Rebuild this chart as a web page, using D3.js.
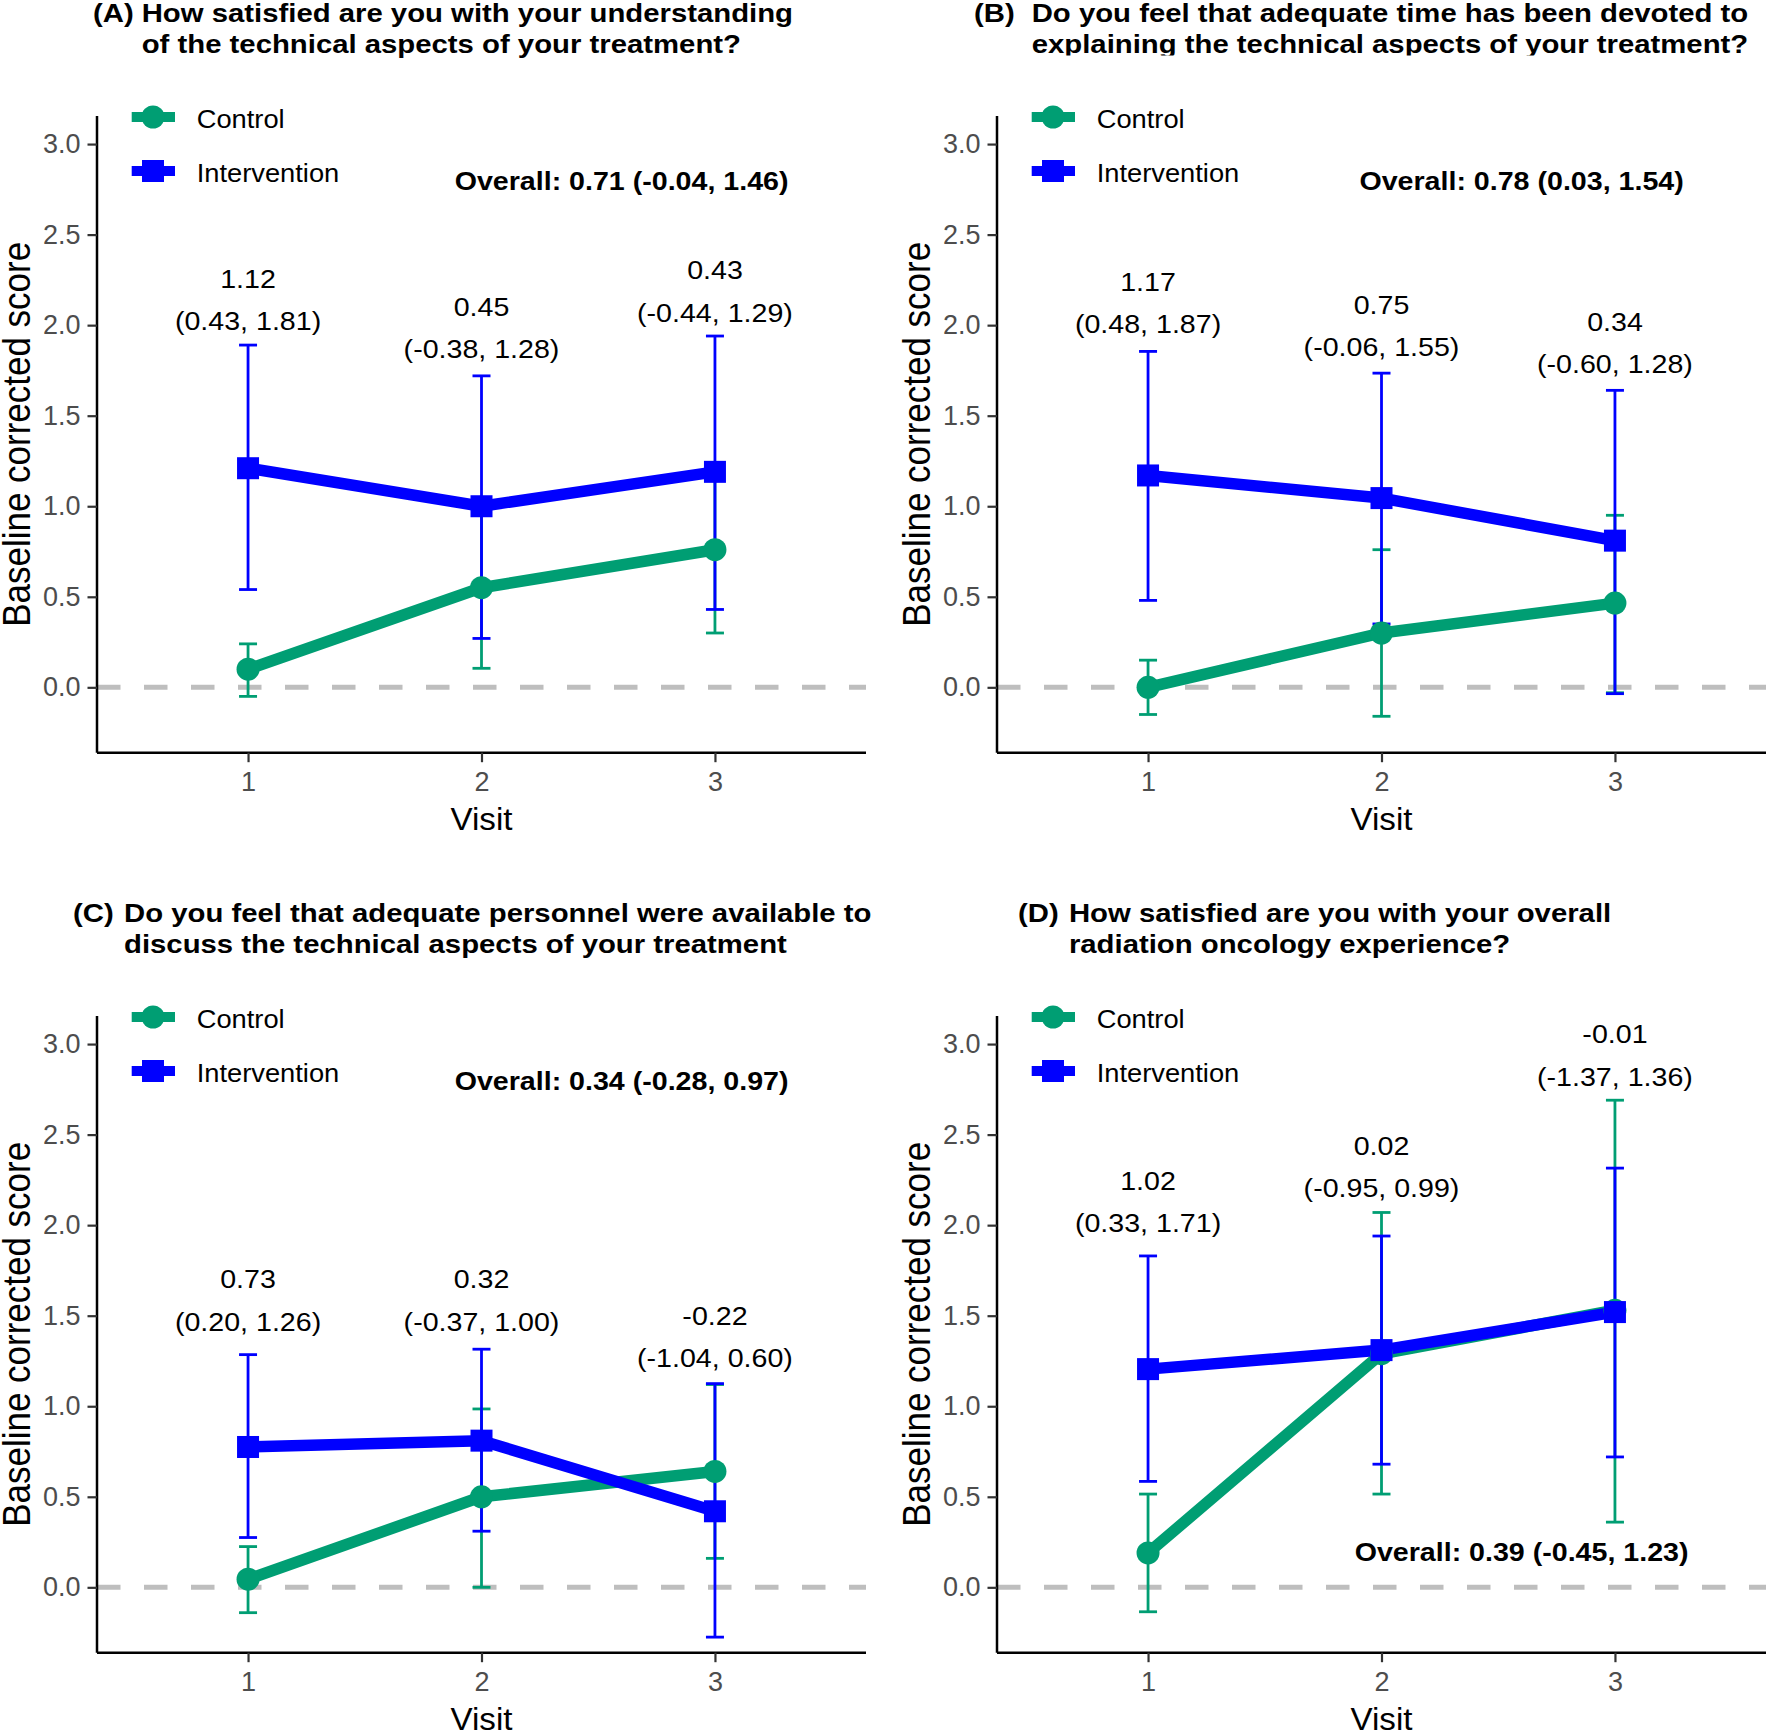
<!DOCTYPE html>
<html>
<head>
<meta charset="utf-8">
<script src="https://cdn.jsdelivr.net/npm/d3@7"></script>
<style>
  html, body { margin: 0; padding: 0; background: #fff; }
  svg { display: block; }
</style>
</head>
<body>
<script>
// ---------------- DATA ----------------
const visits = [1, 2, 3];
const yTicks = [0, 0.5, 1, 1.5, 2, 2.5, 3];
const groups = ["Control", "Intervention"];

const panelTags = ["(A)", "(B)", "(C)", "(D)"];
const titleLine1 = [
  "How satisfied are you with your understanding",
  "Do you feel that adequate time has been devoted to",
  "Do you feel that adequate personnel were available to",
  "How satisfied are you with your overall"
];
const titleLine2 = [
  "of the technical aspects of your treatment?",
  "explaining the technical aspects of your treatment?",
  "discuss the technical aspects of your treatment",
  "radiation oncology experience?"
];

// Panel A
const ctrlMeanA = [0.10, 0.55, 0.76], ctrlLoA = [-0.05, 0.105, 0.30], ctrlHiA = [0.24, 0.99, 1.22];
const intMeanA  = [1.21, 1.00, 1.19], intLoA  = [0.54, 0.27, 0.43],   intHiA  = [1.89, 1.72, 1.94];
const diffA = ["1.12", "0.45", "0.43"];
const ciA = ["(0.43, 1.81)", "(-0.38, 1.28)", "(-0.44, 1.29)"];
const labelYA = [1.973, 1.818, 2.019];
const overallA = "Overall: 0.71 (-0.04, 1.46)";

// Panel B
const ctrlMeanB = [0.00, 0.30, 0.465], ctrlLoB = [-0.15, -0.16, -0.03], ctrlHiB = [0.15, 0.76, 0.95];
const intMeanB  = [1.17, 1.045, 0.81], intLoB  = [0.48, 0.35, -0.035],  intHiB  = [1.855, 1.735, 1.64];
const diffB = ["1.17", "0.75", "0.34"];
const ciB = ["(0.48, 1.87)", "(-0.06, 1.55)", "(-0.60, 1.28)"];
const labelYB = [1.955, 1.829, 1.734];
const overallB = "Overall: 0.78 (0.03, 1.54)";

// Panel C
const ctrlMeanC = [0.045, 0.50, 0.64], ctrlLoC = [-0.14, 0.0, 0.16], ctrlHiC = [0.225, 0.985, 1.12];
const intMeanC  = [0.775, 0.81, 0.42], intLoC  = [0.275, 0.31, -0.275], intHiC = [1.285, 1.315, 1.125];
const diffC = ["0.73", "0.32", "-0.22"];
const ciC = ["(0.20, 1.26)", "(-0.37, 1.00)", "(-1.04, 0.60)"];
const labelYC = [1.417, 1.417, 1.215];
const overallC = "Overall: 0.34 (-0.28, 0.97)";

// Panel D
const ctrlMeanD = [0.19, 1.29, 1.53], ctrlLoD = [-0.135, 0.515, 0.36], ctrlHiD = [0.515, 2.07, 2.69];
const intMeanD  = [1.205, 1.31, 1.52], intLoD  = [0.585, 0.68, 0.72],  intHiD  = [1.83, 1.94, 2.315];
const diffD = ["1.02", "0.02", "-0.01"];
const ciD = ["(0.33, 1.71)", "(-0.95, 0.99)", "(-1.37, 1.36)"];
const labelYD = [1.960, 2.153, 2.770];
const overallD = "Overall: 0.39 (-0.45, 1.23)";

const overallX = 2.6;
const overallY = [2.8, 2.8, 2.8, 0.2];

// ---------------- LAYOUT ----------------
const W = 1768, H = 1733;
const FONT = "'Liberation Sans', Arial, Helvetica, sans-serif";
const GREEN = "#009E73", BLUE = "#0000FF";
const panelOffsets = [[0, 0], [900, 0], [0, 900], [900, 900]];
const tagX = [93, 74, 73, 118];
const bodyX = [141.7, 131.7, 124, 168.9];

const panels = [
  {ctrl: [ctrlMeanA, ctrlLoA, ctrlHiA], int: [intMeanA, intLoA, intHiA], diff: diffA, ci: ciA, ly: labelYA, overall: overallA},
  {ctrl: [ctrlMeanB, ctrlLoB, ctrlHiB], int: [intMeanB, intLoB, intHiB], diff: diffB, ci: ciB, ly: labelYB, overall: overallB},
  {ctrl: [ctrlMeanC, ctrlLoC, ctrlHiC], int: [intMeanC, intLoC, intHiC], diff: diffC, ci: ciC, ly: labelYC, overall: overallC},
  {ctrl: [ctrlMeanD, ctrlLoD, ctrlHiD], int: [intMeanD, intLoD, intHiD], diff: diffD, ci: ciD, ly: labelYD, overall: overallD}
];

const svg = d3.select("body").append("svg")
  .attr("width", W).attr("height", H)
  .style("background", "#fff");
svg.append("rect").attr("width", W).attr("height", H).attr("fill", "#fff");

const defs = svg.append("defs");
defs.append("clipPath").attr("id", "clipB")
  .append("rect").attr("x", -20).attr("y", -20).attr("width", 960).attr("height", 75.5);

function txt(g, x, y, s, o) {
  o = o || {};
  const sx = o.sx || 1;
  let tr = `translate(${x},${y}) scale(${sx},1)`;
  if (o.rotate) tr += ` rotate(${o.rotate})`;
  return g.append("text")
    .attr("transform", tr)
    .attr("text-anchor", o.anchor || "start")
    .attr("font-family", FONT)
    .attr("font-size", o.size || 26)
    .attr("font-weight", o.weight || "normal")
    .attr("fill", o.fill || "#000")
    .text(s);
}

// plot-area geometry inside each panel
const plotLeft = 97, plotRight = 866, plotTop = 116, plotBottom = 752.7;

panels.forEach((p, i) => {
  const [ox, oy] = panelOffsets[i];
  const g = svg.append("g").attr("transform", `translate(${ox},${oy})`);

  const x = d3.scaleLinear().domain([0.353, 3.647]).range([plotLeft, plotRight]);
  const y = d3.scaleLinear().domain([-0.361, 3.155]).range([plotBottom, plotTop]);

  // Title
  const tg = g.append("g");
  if (i === 1) tg.attr("clip-path", "url(#clipB)");
  txt(tg, tagX[i], 21.7, panelTags[i], {size: 25.2, weight: "bold", sx: 1.163});
  txt(tg, bodyX[i], 21.7, titleLine1[i], {size: 25.2, weight: "bold", sx: 1.163});
  txt(tg, bodyX[i], 53.3, titleLine2[i], {size: 25.2, weight: "bold", sx: 1.163});

  // Zero dashed reference line
  g.append("line")
    .attr("x1", plotLeft).attr("x2", plotRight)
    .attr("y1", y(0)).attr("y2", y(0))
    .attr("stroke", "#BEBEBE").attr("stroke-width", 5)
    .attr("stroke-dasharray", "23.5,23.5");

  // Axes
  const yAxis = d3.axisLeft(y).tickValues(yTicks).tickFormat(d3.format(".1f")).tickSize(9.5).tickPadding(7);
  const ya = g.append("g").attr("transform", `translate(${plotLeft},0)`).call(yAxis);
  ya.select(".domain").attr("stroke", "#000").attr("stroke-width", 2.5)
    .attr("d", `M0,${plotTop}V${plotBottom}`);
  ya.selectAll(".tick line").attr("stroke", "#333").attr("stroke-width", 2.2);
  ya.selectAll(".tick text").attr("font-family", FONT).attr("font-size", 27).attr("fill", "#4D4D4D");

  const xAxis = d3.axisBottom(x).tickValues(visits).tickFormat(d3.format("d")).tickSize(9.5).tickPadding(10);
  const xa = g.append("g").attr("transform", `translate(0,${plotBottom})`).call(xAxis);
  xa.select(".domain").attr("stroke", "#000").attr("stroke-width", 2.5)
    .attr("d", `M${plotLeft},0H${plotRight}`);
  xa.selectAll(".tick line").attr("stroke", "#333").attr("stroke-width", 2.2);
  xa.selectAll(".tick text").attr("font-family", FONT).attr("font-size", 27).attr("fill", "#4D4D4D");

  // Axis titles
  txt(g, (plotLeft + plotRight) / 2, 830, "Visit", {size: 31, anchor: "middle", sx: 1.07, fill: "#000"});
  txt(g, 30, (plotTop + plotBottom) / 2, "Baseline corrected score", {size: 35, anchor: "middle", sx: 1.09, rotate: -90});

  const series = [
    {vals: p.ctrl, color: GREEN, shape: "circle"},
    {vals: p.int, color: BLUE, shape: "square"}
  ];
  const rows = s => visits.map((v, k) => ({v, m: s.vals[0][k], lo: s.vals[1][k], hi: s.vals[2][k]}));

  // Error bars
  series.forEach(s => {
    const eg = g.append("g").attr("stroke", s.color).attr("stroke-width", 2.8).attr("fill", "none");
    rows(s).forEach(r => {
      eg.append("line").attr("x1", x(r.v)).attr("x2", x(r.v)).attr("y1", y(r.lo)).attr("y2", y(r.hi));
      eg.append("line").attr("x1", x(r.v) - 9).attr("x2", x(r.v) + 9).attr("y1", y(r.lo)).attr("y2", y(r.lo));
      eg.append("line").attr("x1", x(r.v) - 9).attr("x2", x(r.v) + 9).attr("y1", y(r.hi)).attr("y2", y(r.hi));
    });
  });

  // Lines
  const lineGen = d3.line().x(r => x(r.v)).y(r => y(r.m));
  series.forEach(s => {
    g.append("path").datum(rows(s)).attr("d", lineGen)
      .attr("fill", "none").attr("stroke", s.color).attr("stroke-width", 11.5)
      .attr("stroke-linejoin", "round");
  });

  // Points
  series.forEach(s => {
    rows(s).forEach(r => {
      if (s.shape === "circle") {
        g.append("circle").attr("cx", x(r.v)).attr("cy", y(r.m)).attr("r", 11.5).attr("fill", s.color);
      } else {
        g.append("rect").attr("x", x(r.v) - 11).attr("y", y(r.m) - 11)
          .attr("width", 22).attr("height", 22).attr("fill", s.color);
      }
    });
  });

  // Difference annotations
  visits.forEach((v, k) => {
    const by = y(p.ly[k]);
    txt(g, x(v), by - 42.5, p.diff[k], {size: 26, anchor: "middle", sx: 1.1, fill: "#000"});
    txt(g, x(v), by, p.ci[k], {size: 26, anchor: "middle", sx: 1.1, fill: "#000"});
  });

  // Overall label
  txt(g, x(overallX), y(overallY[i]) + 9.5, p.overall, {size: 26, weight: "bold", anchor: "middle", sx: 1.1});

  // Legend
  const legY = [117, 171];
  groups.forEach((name, k) => {
    const col = k === 0 ? GREEN : BLUE;
    g.append("line").attr("x1", 131.7).attr("x2", 175).attr("y1", legY[k]).attr("y2", legY[k])
      .attr("stroke", col).attr("stroke-width", 10);
    if (k === 0) {
      g.append("circle").attr("cx", 153).attr("cy", legY[k]).attr("r", 11.5).attr("fill", col);
    } else {
      g.append("rect").attr("x", 142).attr("y", legY[k] - 11).attr("width", 22).attr("height", 22).attr("fill", col);
    }
    txt(g, 196.7, legY[k] + 10.5, name, {size: 26.5, sx: 1.03, fill: "#000"});
  });
});
</script>
</body>
</html>
